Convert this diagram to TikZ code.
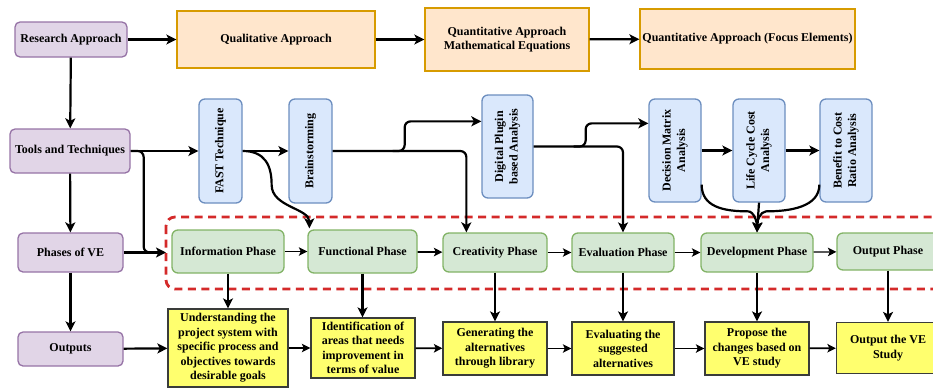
\documentclass[tikz,border=0pt]{standalone}
\usepackage{fontspec}
\setmainfont{Liberation Serif}
\usepackage{graphicx}
\usetikzlibrary{arrows.meta,calc}
\definecolor{pfill}{HTML}{E1D5E7}\definecolor{pdraw}{HTML}{9673A6}
\definecolor{ofill}{HTML}{FFE6CC}\definecolor{odraw}{HTML}{D79B00}
\definecolor{bfill}{HTML}{DAE8FC}\definecolor{bdraw}{HTML}{6C8EBF}
\definecolor{gfill}{HTML}{D5E8D4}\definecolor{gdraw}{HTML}{82B366}
\definecolor{yfill}{HTML}{FFFF6E}\definecolor{ydraw}{HTML}{3A3C3A}
\definecolor{rdash}{HTML}{D42A2A}
\newcommand{\twol}[2]{\begin{tabular}{@{}c@{}}#1\\#2\end{tabular}}
\begin{document}
\begin{tikzpicture}[x=1pt,y=-1pt,
  font=\fontsize{12}{14.5}\selectfont\bfseries,
  box/.style={line width=1.3pt, inner sep=0pt, align=center},
  pbox/.style={box, fill=pfill, draw=pdraw, rounded corners=5pt},
  obox/.style={box, fill=ofill, draw=odraw},
  bbox/.style={box, fill=bfill, draw=bdraw, rounded corners=6pt},
  gbox/.style={box, fill=gfill, draw=gdraw, rounded corners=6pt},
  ybox/.style={box, fill=yfill, draw=ydraw},
  arr/.style={line width=2.2pt, -{Stealth[length=10pt,width=10pt,inset=2.5pt]}},
  tarr/.style={line width=1.7pt, -{Stealth[length=8.5pt,width=8.5pt,inset=2pt]}},
  plain/.style={line width=2.2pt},
  dashbox/.style={draw=rdash, line width=2.8pt, dash pattern=on 8pt off 5.5pt, rounded corners=9pt}
]
\useasboundingbox (0,0) rectangle (933,388);
\clip (0,0) rectangle (933,388);

% dashed frame
\draw[dashbox] (166,217) rectangle (980,289);

% purple
\node[pbox, minimum width=112pt, minimum height=35pt] (ra) at (71,39.5) {Research Approach};
\node[pbox, minimum width=120pt, minimum height=44pt] (tt) at (70,151) {Tools and Techniques};
\node[pbox, minimum width=105pt, minimum height=39pt] (pv) at (70.5,252.5) {Phases of VE};
\node[pbox, minimum width=105pt, minimum height=34pt] (out) at (70.5,349) {Outputs};

% orange
\node[obox, minimum width=198pt, minimum height=57pt] (qual) at (276,39.5) {Qualitative Approach};
\node[obox, minimum width=164pt, minimum height=63pt] (qmath) at (507,39.5) {\twol{Quantitative Approach}{Mathematical Equations}};
\node[obox, minimum width=215pt, minimum height=60pt] (qfoc) at (747.5,39) {Quantitative Approach (Focus Elements)};

% blue
\node[bbox, minimum width=43pt, minimum height=104pt] (fast) at (220.5,151) {\rotatebox{90}{FAST Technique}};
\node[bbox, minimum width=43pt, minimum height=104pt] (brain) at (310.5,151) {\rotatebox{90}{Brainstorming}};
\node[bbox, minimum width=51pt, minimum height=103pt] (dig) at (507.5,146.5) {\rotatebox{90}{\twol{Digital Plugin}{based Analysis}}};
\node[bbox, minimum width=52pt, minimum height=103pt] (dec) at (675,150.5) {\rotatebox{90}{\twol{Decision Matrix}{Analysis}}};
\node[bbox, minimum width=52pt, minimum height=103pt] (lcc) at (759,150.5) {\rotatebox{90}{\twol{Life Cycle Cost}{Analysis}}};
\node[bbox, minimum width=52pt, minimum height=103pt] (ben) at (846,150.5) {\rotatebox{90}{\twol{Benefit to Cost}{Ratio Analysis}}};

% green
\node[gbox, minimum width=112pt, minimum height=43pt] (info) at (228,251.5) {Information Phase};
\node[gbox, minimum width=109pt, minimum height=43pt] (func) at (362.5,251.5) {Functional Phase};
\node[gbox, minimum width=104pt, minimum height=39pt] (crea) at (495,252.5) {Creativity Phase};
\node[gbox, minimum width=102pt, minimum height=39pt] (eval) at (623,252.5) {Evaluation Phase};
\node[gbox, minimum width=112pt, minimum height=39pt] (dev) at (757,252.5) {Development Phase};
\node[gbox, minimum width=102pt, minimum height=37pt] (outp) at (888,251.5) {Output Phase};

% yellow
\node[ybox, minimum width=120pt, minimum height=78pt] (y1) at (228,348) {Understanding the\\project system with\\specific process and\\objectives towards\\desirable goals};
\node[ybox, minimum width=104pt, minimum height=60pt] (y2) at (363,348) {Identification of\\areas that needs\\improvement in\\terms of value};
\node[ybox, minimum width=104pt, minimum height=53pt] (y3) at (495,348.5) {Generating the\\alternatives\\through library};
\node[ybox, minimum width=102pt, minimum height=53pt] (y4) at (623,348.5) {Evaluating the\\suggested\\alternatives};
\node[ybox, minimum width=104pt, minimum height=53pt] (y5) at (757,348.5) {Propose the\\changes based on\\VE study};
\node[ybox, minimum width=103pt, minimum height=51pt] (y6) at (888,348) {Output the VE\\Study};

\coordinate (dl) at (166,252.5);

% top row
\draw[arr] (ra) -- (qual);
\draw[arr] (qual) -- (qmath);
\draw[arr] (qmath) -- (qfoc);

% left column
\draw[arr] (ra) -- (tt);
\draw[arr] (tt) -- (pv);
\draw[arr] (pv) -- (out);
\draw[arr] (pv.east) -- (dl);
\draw[plain, rounded corners=6pt] (tt.east) -- ++(13,0) |- ($(dl)+(-14,0)$);

% tools row
\draw[arr] (tt.east) -- (fast.west);
\draw[arr] (fast.east) -- (brain.west);
\draw[arr] (fast.east) .. controls +(22,0) and +(0,-20) .. ($(fast.east)+(29,34)$)
  .. controls +(0,22) and +(0,-20) .. ($(func.north west)+(2,-1)$);
\draw[arr, rounded corners=6pt] (brain.east) -| ($(crea.north west)+(24,0)$);
\draw[arr, rounded corners=6pt] ($(brain.east)+(60,0)$) -- ($(brain.east)+(72,0)$) |- ($(dig.north west)+(0,27)$);
\draw[arr, rounded corners=6pt] (dig.east) -| (eval.north);
\draw[arr, rounded corners=6pt] ($(dig.east)+(40,0)$) -- ($(dig.east)+(52,0)$) |- ($(dec.north west)+(0,25)$);
\draw[arr] (dec.east |- lcc.west) -- (lcc.west);
\draw[arr] (lcc.east) -- (ben.west);
\draw[arr] (lcc.south) -- (dev.north);
\draw[arr] ($(dec.south east)+(0,-18)$) .. controls +(0,22) and +(-25,0) .. ($(dev.north)+(-9,-21)$)
  .. controls +(6,0) and +(0,-10) .. (dev.north);
\draw[plain, shorten >=9pt] ($(ben.south west)+(0,-18)$) .. controls +(0,22) and +(25,0) .. ($(dev.north)+(9,-21)$)
  .. controls +(-6,0) and +(0,-10) .. (dev.north);

% phase row
\draw[tarr] (info) -- (func);
\draw[tarr] (func) -- (crea);
\draw[tarr] (crea) -- (eval);
\draw[tarr] (eval) -- (dev);
\draw[tarr, line width=1.3pt] (dev) -- (outp);

% phases to outputs
\draw[arr] (info) -- (y1);
\draw[arr] (func.south) -- (func.south |- y2.north);
\draw[arr] (crea) -- (y3);
\draw[arr] (eval) -- (y4);
\draw[arr] (dev) -- (y5);
\draw[arr] (outp) -- (y6);

% output row
\draw[arr] (out) -- (y1);
\draw[tarr] (y1) -- (y2);
\draw[tarr] (y2) -- (y3);
\draw[tarr] (y3) -- (y4);
\draw[tarr] (y4) -- (y5);
\draw[tarr] (y5) -- (y6);
\end{tikzpicture}
\end{document}
